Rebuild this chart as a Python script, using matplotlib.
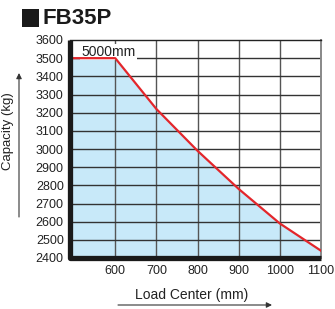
import matplotlib.pyplot as plt
from matplotlib.patches import Rectangle

plt.rcParams['font.family'] = ['Liberation Sans', 'DejaVu Sans']

load_center = [490, 600, 700, 800, 900, 1000, 1100]
capacity = [3500, 3500, 3220, 2990, 2780, 2590, 2440]
x_ticks = [600, 700, 800, 900, 1000, 1100]
y_ticks = list(range(2400, 3700, 100))

W, H = 335, 309
fig = plt.figure(figsize=(3.35, 3.09), dpi=100)
ax = fig.add_axes([70 / W, 1 - 258 / H, 251 / W, 218 / H])

ax.fill_between(load_center, capacity, 2400, color='#c8e9f9', lw=0, zorder=1)
for xv in x_ticks[:-1]:
    ax.axvline(xv, color='#555555', lw=1.0, zorder=2)
for yv in y_ticks[1:-1]:
    ax.axhline(yv, color='#333333', lw=1.0, zorder=2)
ax.plot(load_center, capacity, color='#e3262b', lw=1.6, zorder=3)

ax.set_xlim(490, 1100)
ax.set_ylim(2400, 3600)
ax.set_xticks(x_ticks)
ax.set_yticks(y_ticks)
ax.tick_params(length=0, labelsize=9, colors='#222222')
ax.tick_params(axis='y', pad=4.5)
ax.tick_params(axis='x', pad=5)

ax.spines['left'].set_visible(False)
ax.spines['bottom'].set_visible(False)
ax.spines['top'].set_color('#222222')
ax.spines['top'].set_linewidth(1.0)
ax.spines['right'].set_color('#888888')
ax.spines['right'].set_linewidth(1.4)

# thick rounded border on left and bottom
ax.plot([0, 0, 1], [1, 0, 0], transform=ax.transAxes, color='#1a1a1a', lw=3.8,
        solid_joinstyle='round', solid_capstyle='butt', clip_on=False, zorder=5)

ax.text(0.046, 0.945, '5000mm', transform=ax.transAxes, fontsize=10, va='center', ha='left',
        color='#222222', bbox=dict(facecolor='white', edgecolor='none', pad=0.8), zorder=2.5)

# title
fig.add_artist(Rectangle((22 / W, 1 - 27 / H), 17 / W, 18 / H, transform=fig.transFigure,
                         facecolor='#1a1a1a', edgecolor='none'))
fig.text(42 / W, 1 - 18 / H, 'FB35P', fontsize=16, fontweight='bold', va='center', ha='left',
         color='#1a1a1a')

fig.text(8 / W, 1 - 131 / H, 'Capacity (kg)', rotation=90, fontsize=9.5, va='center',
         ha='center', color='#222222')
fig.add_artist(plt.Annotation('', xy=(19 / W, 1 - 73 / H), xytext=(19 / W, 1 - 217 / H),
                              xycoords='figure fraction',
                              arrowprops=dict(arrowstyle='-|>', color='#333333', lw=0.8,
                                              mutation_scale=8, shrinkA=0, shrinkB=0)))

fig.text(192 / W, 1 - 295 / H, 'Load Center (mm)', fontsize=10, va='center', ha='center',
         color='#222222')
fig.add_artist(plt.Annotation('', xy=(272 / W, 1 - 305 / H), xytext=(118 / W, 1 - 305 / H),
                              xycoords='figure fraction',
                              arrowprops=dict(arrowstyle='-|>', color='#333333', lw=0.8,
                                              mutation_scale=8, shrinkA=0, shrinkB=0)))

fig.savefig('out.png', dpi=100)
